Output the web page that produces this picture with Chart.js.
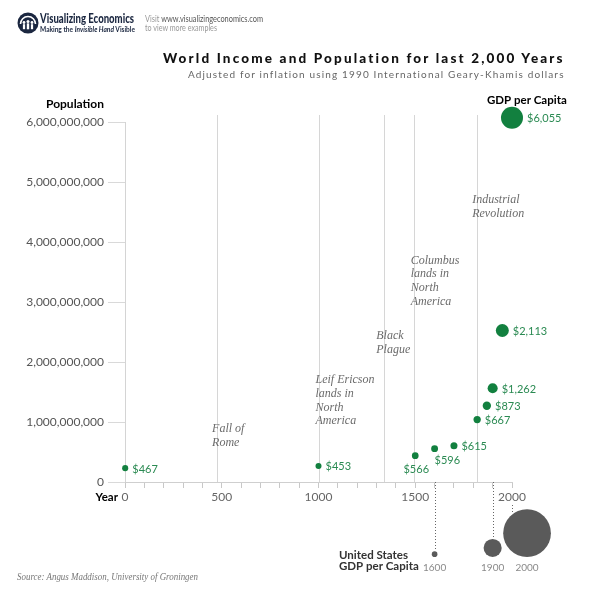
<!DOCTYPE html>
<html>
<head>
<meta charset="utf-8">
<script src="https://cdn.jsdelivr.net/npm/chart.js@4.4.1/dist/chart.umd.min.js"></script>
<style>
  html, body { margin: 0; padding: 0; background: #fff; }
  #wrap { position: relative; width: 600px; height: 600px; overflow: hidden; }
  #c { position: absolute; left: 0; top: 0; }
  .t { position: absolute; white-space: nowrap; line-height: 1; transform-origin: 0 0; }
</style>
</head>
<body>
<div id="wrap">
  <canvas id="c" width="600" height="600"></canvas>
  <svg style="position:absolute;left:17px;top:12px" width="22" height="22" viewBox="0 0 22 22">
    <circle cx="11" cy="11" r="10.5" fill="#1b2740"/>
    <path d="M3.5 12 A7.5 7.5 0 0 1 18.5 12" fill="none" stroke="#fff" stroke-width="1.6"/>
    <circle cx="7" cy="10.5" r="1.4" fill="#fff"/><rect x="5.9" y="12.2" width="2.2" height="5" fill="#fff"/>
    <circle cx="11" cy="9.5" r="1.5" fill="#fff"/><rect x="9.8" y="11.3" width="2.4" height="6" fill="#fff"/>
    <circle cx="15" cy="10.5" r="1.4" fill="#fff"/><rect x="13.9" y="12.2" width="2.2" height="5" fill="#fff"/>
  </svg>
  <div class="t" id="brand" style="font:900 12.5px Lato, sans-serif;color:#1b2740;">Visualizing Economics</div>
  <div class="t" id="tagline" style="font:700 7.5px Lato, sans-serif;color:#1b2740;">Making the <i>Invisible Hand</i> Visible</div>
  <div class="t" id="visit1" style="font:400 8.5px Lato, sans-serif;color:#999;">Visit <span style="color:#555">www.visualizingeconomics.com</span></div>
  <div class="t" id="visit2" style="font:400 8.5px Lato, sans-serif;color:#999;">to view more examples</div>
  <div class="t" id="title" style="font:900 13.5px Lato, sans-serif;color:#111;">World Income and Population for last 2,000 Years</div>
  <div class="t" id="subtitle" style="font:400 10px Lato, sans-serif;color:#666;">Adjusted for inflation using 1990 International Geary-Khamis dollars</div>
  <div class="t" id="source" style="font:italic 400 10px 'Liberation Serif', serif;color:#777;">Source: Angus Maddison, University of Groningen</div>
</div>
<script>
// ---------------- data ----------------
const years = [1, 1000, 1500, 1600, 1700, 1820, 1870, 1900, 1950, 2000];
const populations = [231e6, 268e6, 438e6, 556e6, 603e6, 1041e6, 1270e6, 1563e6, 2525e6, 6071e6];
const gdpPerCapita = [467, 453, 566, 596, 615, 667, 873, 1262, 2113, 6055];

const usYears = [1600, 1900, 2000];
const usGdpPerCapita = [400, 4091, 28467];

const populationTicks = [0, 1e9, 2e9, 3e9, 4e9, 5e9, 6e9];
const yearTickLabels = [0, 500, 1000, 1500, 2000];

const eventYears = [476, 1000, 1340, 1492, 1820];
const eventLabels = [
  ['Fall of', 'Rome'],
  ['Leif Ericson', 'lands in', 'North', 'America'],
  ['Black', 'Plague'],
  ['Columbus', 'lands in', 'North', 'America'],
  ['Industrial', 'Revolution']
];

// ---------------- styles / layout ----------------
const SANS = 'Lato, "Open Sans", sans-serif';
const SERIF = '"Liberation Serif", "DejaVu Serif", serif';
const GREEN = '#12803f';
const GREEN_TEXT = '#2a8a52';
const US_GRAY = '#5a5a5a';
const AREA_PER_DOLLAR = 0.02;             // bubble area (px^2) per dollar
const bubbleRadius = gdp => Math.sqrt(AREA_PER_DOLLAR * gdp);
const labelPlacement = { 1500: 'below', 1600: 'belowRight' };
// text block: horizontal offset (px) from the event line, first-line centre in population units
const eventTextLayout = [
  { dx: -5, pop: 0.89e9 }, { dx: -3, pop: 1.71e9 }, { dx: -8, pop: 2.44e9 },
  { dx: -3, pop: 3.70e9 }, { dx: -5, pop: 4.71e9 }
];
const EVENT_LINE_HEIGHT = 13.7;

function txt(ctx, s, x, yc, font, size, color, align, capRatio) {
  ctx.font = font;
  ctx.fillStyle = color;
  ctx.textAlign = align || 'left';
  ctx.textBaseline = 'alphabetic';
  ctx.fillText(s, x, yc + size * (capRatio == null ? 0.36 : capRatio));
}

const decor = {
  id: 'decor',
  afterDatasetsUpdate(chart) {
    // US bubbles: sit on a common baseline, pushed right so they do not overlap
    const meta = chart.getDatasetMeta(1);
    let prevRight = -Infinity;
    meta.data.forEach(el => {
      const r = el.options.radius;
      el.y -= r;
      if (el.x - r < prevRight + 1.5) el.x = prevRight + 1.5 + r;
      prevRight = el.x + r;
    });
  },
  beforeDatasetsDraw(chart) {
    const { ctx, chartArea } = chart;
    const xs = chart.scales.x, ys = chart.scales.y;
    const zeroY = ys.getPixelForValue(0);
    ctx.save();
    ctx.lineWidth = 1;
    // y axis line
    const ax = Math.round(xs.getPixelForValue(0)) + 0.5;
    ctx.strokeStyle = '#d4d4d4';
    ctx.beginPath(); ctx.moveTo(ax, ys.getPixelForValue(populationTicks[populationTicks.length - 1])); ctx.lineTo(ax, zeroY); ctx.stroke();
    // event lines + texts
    ctx.strokeStyle = '#d6d6d6';
    eventYears.forEach((yr, i) => {
      const px = Math.round(xs.getPixelForValue(yr)) + 0.5;
      ctx.beginPath(); ctx.moveTo(px, chartArea.top - 7); ctx.lineTo(px, zeroY); ctx.stroke();
    });
    eventYears.forEach((yr, i) => {
      const lay = eventTextLayout[i];
      const px = xs.getPixelForValue(yr) + lay.dx;
      const py = ys.getPixelForValue(lay.pop);
      eventLabels[i].forEach((line, k) => {
        txt(ctx, line, px, py + k * EVENT_LINE_HEIGHT, 'italic 12px ' + SERIF, 12, '#6b6b6b', 'left', 0.31);
      });
    });
    // dotted connectors from the axis to the US bubbles
    const usMeta = chart.getDatasetMeta(1);
    ctx.strokeStyle = '#666';
    ctx.setLineDash([1, 2]);
    usMeta.data.forEach((el, i) => {
      const px = Math.round(xs.getPixelForValue(usYears[i])) + 0.5;
      const r = el.options.radius;
      const dx = px - el.x;
      const end = el.y - Math.sqrt(Math.max(r * r - dx * dx, 0));
      const start = yearTickLabels.includes(usYears[i]) ? zeroY + 23 : zeroY;
      ctx.beginPath(); ctx.moveTo(px, start); ctx.lineTo(px, end - 1); ctx.stroke();
    });
    ctx.setLineDash([]);
    ctx.restore();
  },
  afterDatasetsDraw(chart) {
    const { ctx } = chart;
    const xs = chart.scales.x, ys = chart.scales.y;
    ctx.save();
    // GDP labels for world bubbles
    const meta = chart.getDatasetMeta(0);
    meta.data.forEach((el, i) => {
      const r = el.options.radius;
      const s = '$' + gdpPerCapita[i].toLocaleString('en-US');
      const place = labelPlacement[years[i]];
      if (place === 'below') txt(ctx, s, el.x + 1, el.y + 13, '11px ' + SANS, 11, GREEN_TEXT, 'center');
      else if (place === 'belowRight') txt(ctx, s, el.x, el.y + 11.5, '11px ' + SANS, 11, GREEN_TEXT, 'left');
      else txt(ctx, s, el.x + r + 4, el.y + 0.5, '11px ' + SANS, 11, GREEN_TEXT, 'left');
    });
    // US year labels
    const usMeta = chart.getDatasetMeta(1);
    const base = chart.scales.yUS.getPixelForValue(0);
    usMeta.data.forEach((el, i) => {
      txt(ctx, String(usYears[i]), el.x, base + 10, '10px ' + SANS, 10, '#8a8a8a', 'center');
    });
    // axis titles and legends
    const zeroY = ys.getPixelForValue(0);
    txt(ctx, 'Population', 104, ys.getPixelForValue(populationTicks[populationTicks.length - 1]) - 18, 'bold 12px ' + SANS, 12, '#000', 'right');
    txt(ctx, 'Year', 118, zeroY + 15, 'bold 11.5px ' + SANS, 11.5, '#000', 'right');
    const top = meta.data[meta.data.length - 1];
    txt(ctx, 'GDP per Capita', top.x - 25, top.y - 18, 'bold 11.5px ' + SANS, 11.5, '#000', 'left');
    txt(ctx, 'United States', 339, base - 2.3, 'bold 11.5px ' + SANS, 11.5, '#333', 'left');
    txt(ctx, 'GDP per Capita', 339, base + 9.3, 'bold 11.5px ' + SANS, 11.5, '#333', 'left');
    ctx.restore();
  }
};

function placeText(id, x, yc, opts) {
  const el = document.getElementById(id);
  const size = parseFloat(getComputedStyle(el).fontSize);
  let w = el.getBoundingClientRect().width;
  if (opts && opts.width) {
    if (opts.mode === 'spacing') {
      const n = el.textContent.length;
      el.style.letterSpacing = ((opts.width - w) / n) + 'px';
      w = opts.width;
    } else {
      el.style.transform = 'scaleX(' + (opts.width / w) + ')';
      w = opts.width;
    }
  }
  const left = (opts && opts.align === 'right') ? x - w : x;
  el.style.left = left + 'px';
  el.style.top = (yc - size * 0.53) + 'px';
}

function build() {
  placeText('brand', 40, 18, { width: 94 });
  placeText('tagline', 40, 28.5, { width: 95 });
  placeText('visit1', 145, 18.3, { width: 118 });
  placeText('visit2', 145, 28, { width: 72 });
  placeText('title', 565, 57, { width: 402, mode: 'spacing', align: 'right' });
  placeText('subtitle', 565, 73, { width: 377, mode: 'spacing', align: 'right' });
  placeText('source', 17, 576, { width: 181 });

  new Chart(document.getElementById('c'), {
    type: 'bubble',
    data: {
      datasets: [
        {
          label: 'World GDP per capita',
          data: years.map((yr, i) => ({ x: yr, y: populations[i] })),
          backgroundColor: GREEN,
          borderWidth: 0,
          radius: c => bubbleRadius(gdpPerCapita[c.dataIndex]),
          clip: false,
          yAxisID: 'y'
        },
        {
          label: 'United States GDP per capita',
          data: usYears.map(yr => ({ x: yr, y: 0 })),
          backgroundColor: US_GRAY,
          borderWidth: 0,
          radius: c => bubbleRadius(usGdpPerCapita[c.dataIndex]),
          clip: false,
          yAxisID: 'yUS'
        }
      ]
    },
    options: {
      responsive: false,
      animation: false,
      events: [],
      layout: { padding: { left: 0, right: 88, top: 122, bottom: 43 } },
      plugins: { legend: { display: false }, tooltip: { enabled: false }, title: { display: false } },
      scales: {
        x: {
          type: 'linear',
          position: { y: 0 },
          min: 0, max: 2000,
          grid: { drawOnChartArea: false, drawTicks: true, tickLength: 5, color: '#c8c8c8' },
          border: { display: true, color: '#cfcfcf' },
          ticks: {
            stepSize: 100, autoSkip: false, maxRotation: 0, padding: 3,
            color: '#666', font: { family: SANS, size: 12 },
            callback: v => yearTickLabels.includes(v) ? String(v) : ''
          }
        },
        y: {
          type: 'linear',
          position: 'left',
          min: -1.25e9, max: 6e9,
          afterFit: s => { s.width = 125; },
          afterBuildTicks: s => { s.ticks = populationTicks.map(v => ({ value: v })); },
          grid: { drawOnChartArea: false, drawTicks: true, tickLength: 17, color: '#d9d9d9' },
          border: { display: false },
          ticks: {
            padding: 4, color: '#555', font: { family: SANS, size: 12 },
            callback: v => v.toLocaleString('en-US')
          }
        },
        yUS: { type: 'linear', display: false, min: 0, max: 1 }
      }
    },
    plugins: [decor]
  });
}

Promise.all([
  document.fonts.load('12px Lato'), document.fonts.load('bold 12px Lato'), document.fonts.load('900 12px Lato'),
  document.fonts.load('italic 12px "Liberation Serif"')
]).catch(() => {}).then(build);
</script>
</body>
</html>
